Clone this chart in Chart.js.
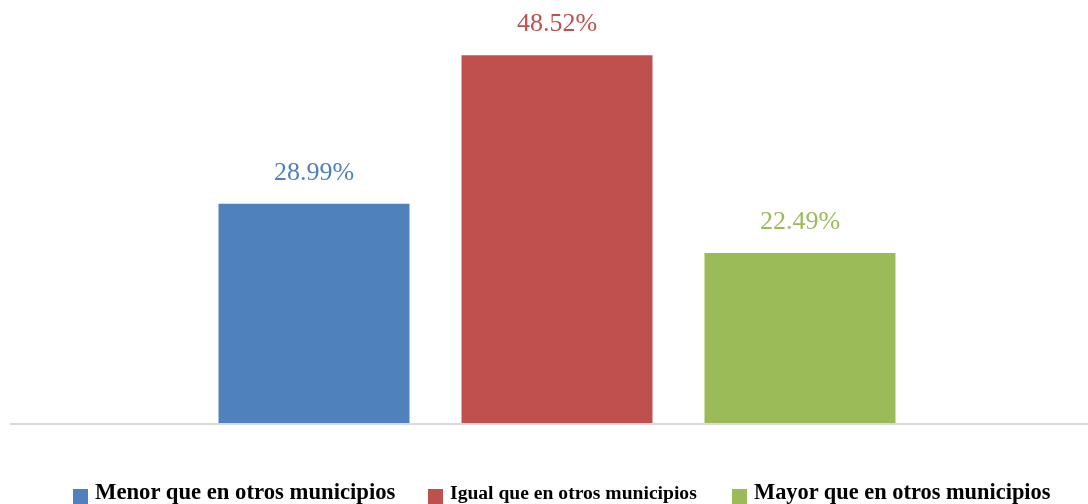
<!DOCTYPE html>
<html>
<head>
<meta charset="utf-8">
<script src="https://cdn.jsdelivr.net/npm/chart.js@4"></script>
<style>
  html, body { margin: 0; padding: 0; background: #fff; overflow: hidden; }
  #wrap { position: relative; width: 1088px; height: 504px; }
  #leyenda { position: absolute; left: 0; top: 0; width: 1088px; height: 504px; pointer-events: none;
    font-family: "Liberation Serif", serif; font-weight: bold; color: #000; }
  .item { position: absolute; white-space: nowrap; }
  .cuadro { position: absolute; width: 15px; height: 15px; }
</style>
</head>
<body>
<div id="wrap">
  <canvas id="grafico" width="1088" height="504"></canvas>
  <div id="leyenda"></div>
</div>
<script>
const categorias = ['']
const series = ['Menor que en otros municipios', 'Igual que en otros municipios', 'Mayor que en otros municipios']
const valores = [28.99, 48.52, 22.49]
const colores = ['#4F81BD', '#C0504D', '#9BBB59']

// la leyenda original usa tamaños distintos por elemento
const leyendaPos = [{ x: 73, size: 22.7 }, { x: 428, size: 19.6 }, { x: 732, size: 22.4 }]

const lineaBase = {
  id: 'lineaBase',
  afterDatasetsDraw(chart) {
    const ctx = chart.ctx
    const y = chart.scales.y.getPixelForValue(0)
    ctx.save()
    ctx.strokeStyle = '#d9d9d9'
    ctx.lineWidth = 2
    ctx.beginPath()
    ctx.moveTo(10, y)
    ctx.lineTo(chart.width, y)
    ctx.stroke()
    ctx.restore()
  }
}

const etiquetas = {
  id: 'etiquetas',
  afterDatasetsDraw(chart) {
    const ctx = chart.ctx
    ctx.save()
    ctx.font = '26px "Liberation Serif", serif'
    ctx.textAlign = 'center'
    ctx.textBaseline = 'middle'
    chart.data.datasets.forEach((ds, i) => {
      const barra = chart.getDatasetMeta(i).data[0]
      ctx.fillStyle = ds.backgroundColor
      ctx.fillText(ds.data[0].toFixed(2) + '%', barra.x, barra.y - 31)
    })
    ctx.restore()
  }
}

const graficoBarras = new Chart(document.getElementById('grafico'), {
  type: 'bar',
  data: {
    labels: categorias,
    datasets: series.map((nombre, i) => ({
      label: nombre,
      data: [valores[i]],
      backgroundColor: colores[i],
      categoryPercentage: 0.6864,
      barPercentage: 0.786
    }))
  },
  options: {
    responsive: false,
    animation: false,
    layout: { padding: { left: 26, right: 0, top: 44, bottom: 80 } },
    plugins: { legend: { display: false }, tooltip: { enabled: false } },
    scales: {
      x: { display: false },
      y: { display: false, min: 0, max: 50 }
    }
  },
  plugins: [lineaBase, etiquetas]
})

const leyenda = document.getElementById('leyenda')
series.forEach((nombre, i) => {
  const p = leyendaPos[i]
  const cuadro = document.createElement('div')
  cuadro.className = 'cuadro'
  cuadro.style.left = p.x + 'px'
  cuadro.style.top = '489px'
  cuadro.style.background = colores[i]
  const texto = document.createElement('div')
  texto.className = 'item'
  texto.style.left = (p.x + 22) + 'px'
  texto.style.top = (501 - p.size * 0.9) + 'px'
  texto.style.fontSize = p.size + 'px'
  texto.style.lineHeight = '1'
  texto.textContent = nombre
  leyenda.appendChild(cuadro)
  leyenda.appendChild(texto)
})
</script>
</body>
</html>
